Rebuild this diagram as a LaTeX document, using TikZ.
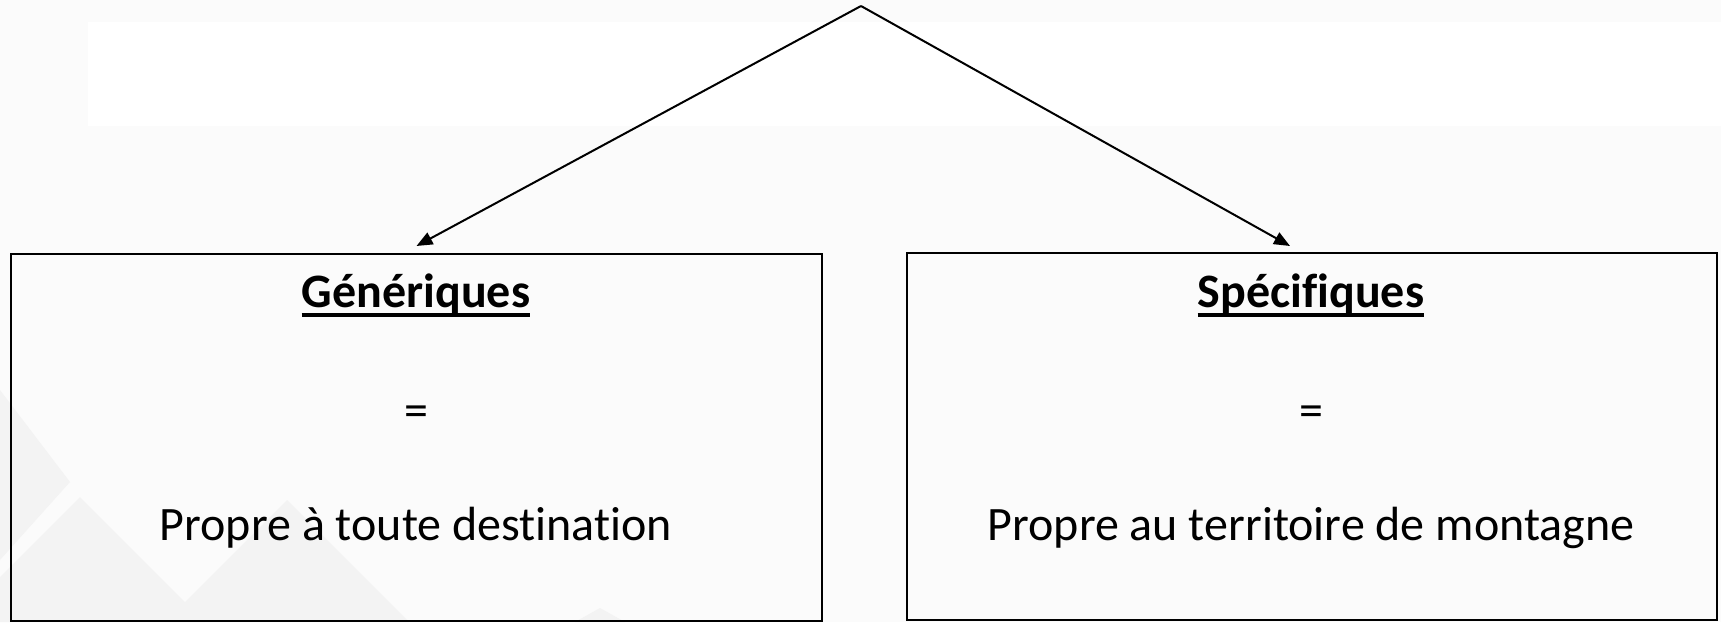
\documentclass[tikz,border=0pt]{standalone}
\usepackage{fontspec}
\setmainfont{Carlito}[Ligatures=NoCommon]
\usetikzlibrary{arrows.meta}
\definecolor{bgcol}{HTML}{FBFBFB}
\definecolor{mtncol}{HTML}{F3F3F3}
\begin{document}
\begin{tikzpicture}[x=1pt,y=1pt,
  box/.style={draw=black, line width=2pt, anchor=north west},
  txt/.style={inner sep=0pt, font=\fontsize{48}{57}\selectfont},
  head/.style={txt, font=\fontsize{48}{57}\selectfont\bfseries},
  arr/.style={line width=2pt, -{Triangle[length=16pt,width=13pt]}}]
\useasboundingbox (0,0) rectangle (1721,622);
% background
\fill[bgcol] (0,0) rectangle (1721,622);
\fill[white] (88,600) rectangle (1721,496);
\fill[mtncol] (0,232) -- (70,140) -- (0,62) -- cycle;
\fill[mtncol] (-45,0) -- (80,125) -- (205,0) -- cycle;
\fill[mtncol] (165,0) -- (287,122) -- (409,0) -- cycle;
\fill[mtncol] (575,0) -- (600,14) -- (625,0) -- cycle;
% boxes
\node[box, minimum width=811, minimum height=367] (gen) at (10,369) {};
\node[box, minimum width=810, minimum height=367] (spec) at (906,370) {};
% texts
\node[head, anchor=base] (genT) at (416,315) {Génériques};
\draw[line width=3.5pt] ([yshift=-8pt]genT.base west) -- ([yshift=-8pt]genT.base east);
\node[txt] (genEq) at (416,206) {=};
\node[txt, anchor=base] (genD) at (416,82) {Propre à toute destination};
\node[head, anchor=base] (specT) at (1311,315) {Spécifiques};
\draw[line width=3.5pt] ([yshift=-8pt]specT.base west) -- ([yshift=-8pt]specT.base east);
\node[txt] (specEq) at (1311,206) {=};
\node[txt, anchor=base] (specD) at (1311,82) {Propre au territoire de montagne};
% connectors
\coordinate (top) at (861,616);
\draw[arr] (top) -- ([yshift=7pt]gen.north);
\draw[arr] (top) -- ([xshift=-22pt,yshift=6pt]spec.north);
\end{tikzpicture}
\end{document}
